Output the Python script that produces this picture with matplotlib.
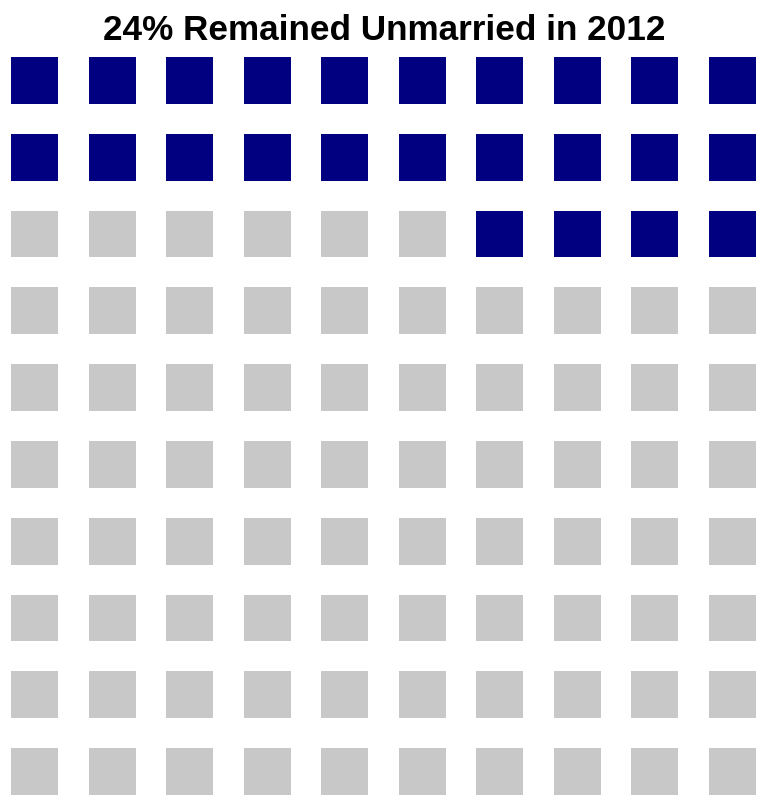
import matplotlib.pyplot as plt
import numpy as np

title = "24% Remained Unmarried in 2012"
n_rows = 10
n_cols = 10
pct_unmarried = 24
colors = {"unmarried": "#000080", "other": "#C8C8C8"}

plt.rcParams['font.family'] = ['Liberation Sans', 'DejaVu Sans']

# waffle cells, filled from the top right corner going left
k = np.arange(n_rows * n_cols)
rows = k // n_cols
cols = (n_cols - 1) - k % n_cols
filled = k < pct_unmarried

W, H = 768, 806
fig = plt.figure(figsize=(W / 100, H / 100), dpi=100)
ax = fig.add_axes([11 / W, 11 / H, 745 / W, 738 / H])

size = 0.61
for is_filled in [False, True]:
    m = filled == is_filled
    c = colors["unmarried"] if is_filled else colors["other"]
    ax.bar(cols[m], size, width=size, bottom=rows[m], align='edge', color=c, linewidth=0)

ax.set_xlim(0, n_cols - 1 + size)
ax.set_ylim(n_rows - 1 + size, 0)
ax.axis('off')

fig.text(0.5, 1 - 39.5 / H, title, ha='center', va='baseline', fontsize=25.3, fontweight='bold')

plt.savefig("out.png", dpi=100)
